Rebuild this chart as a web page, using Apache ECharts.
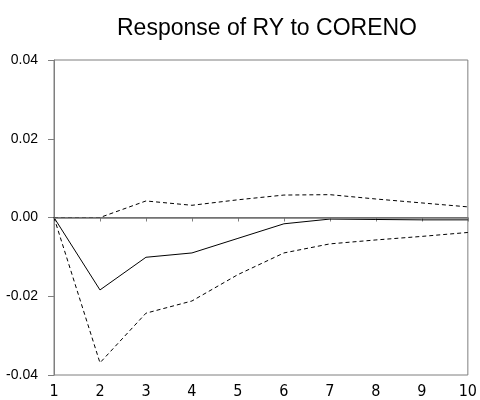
<!DOCTYPE html>
<html>
<head>
<meta charset="utf-8">
<script src="https://cdn.jsdelivr.net/npm/echarts@6/dist/echarts.min.js"></script>
<style>
  html, body { margin: 0; padding: 0; background: #fff; }
  #main { width: 480px; height: 400px; }
</style>
</head>
<body>
<div id="main"></div>
<script>
var periods = ['1', '2', '3', '4', '5', '6', '7', '8', '9', '10'];
var response = [0, -0.0184, -0.0101, -0.0090, -0.0053, -0.0016, -0.0004, -0.0005, -0.0006, -0.0006];
var upperBand = [0, 0.0000, 0.0042, 0.0031, 0.0045, 0.0057, 0.0058, 0.0047, 0.0037, 0.0027];
var lowerBand = [0, -0.0369, -0.0243, -0.0212, -0.0145, -0.0090, -0.0067, -0.0057, -0.0048, -0.0038];
var yTicks = [-0.04, -0.02, 0, 0.02, 0.04];

var chartDom = document.getElementById('main');
var myChart = echarts.init(chartDom);
var option;

var axisGray = '#7f7f7f';
var font = 'Liberation Sans, Arial, sans-serif';

option = {
  animation: false,
  title: {
    text: 'Response of RY to CORENO',
    left: 262,
    top: 12,
    textAlign: 'center',
    textStyle: { fontFamily: font, fontSize: 23, fontWeight: 'normal', color: '#000' }
  },
  grid: {
    left: 54, right: 8, top: 60, bottom: 25,
    show: true, borderColor: axisGray, borderWidth: 1, backgroundColor: '#fff'
  },
  xAxis: {
    type: 'category',
    data: periods,
    boundaryGap: false,
    axisLine: { lineStyle: { color: axisGray } },
    axisTick: { show: true, length: 4, inside: false, lineStyle: { color: axisGray } },
    axisLabel: {
      color: '#000', fontFamily: "'Liberation Sans Narrow', 'DejaVu Sans Condensed', sans-serif",
      fontSize: 16, margin: 9, interval: 0
    },
    splitLine: { show: false }
  },
  yAxis: {
    type: 'value',
    min: yTicks[0],
    max: yTicks[yTicks.length - 1],
    interval: 0.02,
    axisLine: { show: true, lineStyle: { color: axisGray } },
    axisTick: { show: true, length: 6, lineStyle: { color: axisGray } },
    axisLabel: {
      color: '#000', fontFamily: font, fontSize: 14, margin: 16,
      padding: [0, 0, 5, 0],
      formatter: function (v) { return v.toFixed(2); }
    },
    splitLine: { show: false }
  },
  series: [
    {
      name: 'response',
      type: 'line',
      data: response,
      symbol: 'none',
      lineStyle: { color: '#000', width: 1 },
      markLine: {
        silent: true,
        symbol: 'none',
        label: { show: false },
        lineStyle: { color: '#6f6f6f', width: 1.5, type: 'solid' },
        data: [{ yAxis: 0 }]
      },
      z: 3
    },
    {
      name: 'upper',
      type: 'line',
      data: upperBand,
      symbol: 'none',
      lineStyle: { color: '#000', width: 1, type: [4, 3] }
    },
    {
      name: 'lower',
      type: 'line',
      data: lowerBand,
      symbol: 'none',
      lineStyle: { color: '#000', width: 1, type: [4, 3] }
    }
  ]
};

option && myChart.setOption(option);
</script>
</body>
</html>
